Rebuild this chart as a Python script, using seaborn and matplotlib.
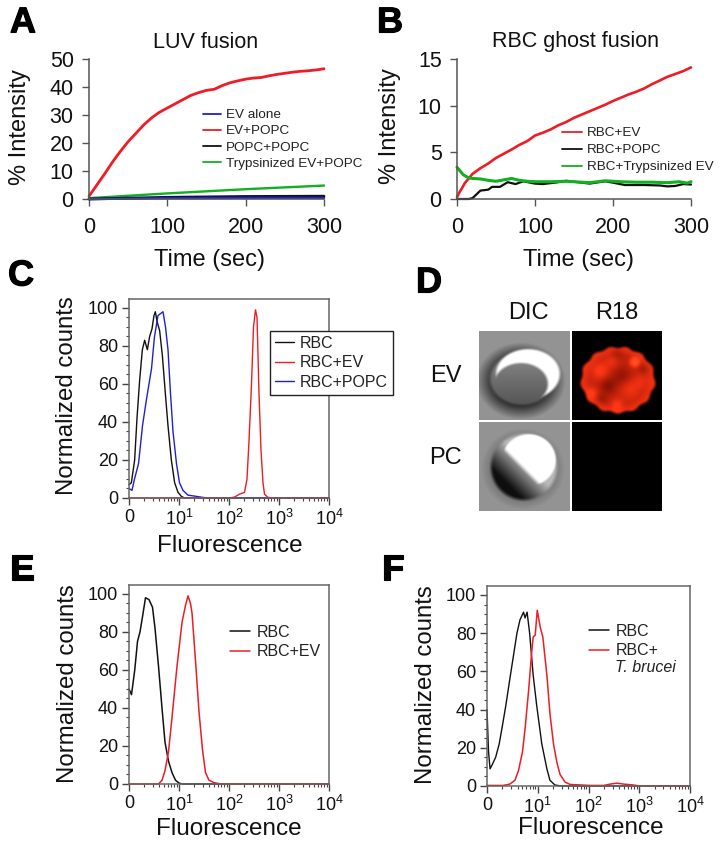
import numpy as np
import pandas as pd
import matplotlib
matplotlib.use("Agg")
import matplotlib.pyplot as plt
import matplotlib.patheffects as pe
from matplotlib.ticker import FixedLocator, NullFormatter
import seaborn as sns

W, H = 725, 851
sns.set_theme(style="ticks")
plt.rcParams["font.family"] = ["Liberation Sans", "DejaVu Sans"]
plt.rcParams["mathtext.default"] = "regular"
plt.rcParams["mathtext.fontset"] = "custom"
plt.rcParams["mathtext.rm"] = "Liberation Sans"

RED, BLACK, BLUE, GREEN = "#ee1c25", "#111111", "#1f1fd0", "#10b020"

# Panel A
a_red_t = [0, 10, 20, 30, 40, 50, 60, 70, 80, 90, 100, 110, 120, 130, 140, 150, 160, 170, 180, 190, 200,
           210, 220, 230, 240, 250, 260, 270, 280, 290, 300]
a_red_y = [1, 5, 9, 13.2, 17, 20.5, 23.5, 26.5, 29, 31, 32.5, 34, 35.5, 37, 38, 38.8, 39.2, 40.5, 41.5, 42.2, 42.8,
           43.2, 43.4, 44, 44.5, 44.9, 45.3, 45.6, 45.8, 46.1, 46.5]
a_green_t = [0, 100, 200, 300]
a_green_y = [0.3, 2.0, 3.5, 4.8]
a_black_t = [0, 100, 200, 300]
a_black_y = [0.0, 0.6, 0.9, 1.0]
a_blue_t = [0, 100, 200, 300]
a_blue_y = [0.0, 0.3, 0.4, 0.4]

# Panel B
b_red_t = [0, 3, 6, 10, 15, 20, 30, 40, 50, 60, 70, 80, 90, 100, 110, 120, 130, 140, 150, 160,
           170, 180, 190, 200, 210, 220, 230, 240, 250, 260, 270, 280, 290, 300]
b_red_y = [0.2, 0.7, 1.1, 1.7, 2.2, 2.7, 3.3, 3.8, 4.4, 4.85, 5.3, 5.8, 6.2, 6.8, 7.1, 7.45, 7.9, 8.25,
           8.7, 9.05, 9.4, 9.75, 10.1, 10.5, 10.85, 11.2, 11.5, 11.85, 12.3, 12.7, 13.1, 13.4, 13.7, 14.1]
b_green_t = [0, 2, 5, 8, 12, 16, 20, 30, 40, 50, 60, 70, 80, 90, 100, 120, 140, 160, 170, 190, 210,
             230, 250, 270, 285, 295, 300]
b_green_y = [3.4, 3.2, 2.9, 2.6, 2.4, 2.25, 2.2, 2.15, 2.0, 1.9, 2.05, 2.2, 2.0, 1.9, 1.85, 1.85, 1.9,
             1.8, 1.75, 1.95, 1.85, 1.8, 1.8, 1.75, 1.85, 1.7, 1.85]
b_black_t = [0, 15, 20, 25, 30, 40, 45, 55, 65, 75, 85, 100, 110, 130, 140, 150, 170, 190, 200, 215,
             240, 260, 270, 280, 290, 300]
b_black_y = [0, 0, 0.1, 0.5, 0.9, 1.0, 1.3, 1.3, 1.8, 1.6, 1.9, 1.65, 1.6, 1.8, 1.95, 1.85, 1.65, 1.9,
             1.75, 1.5, 1.5, 1.45, 1.35, 1.4, 1.6, 1.55]

# Panel C
c_black_x = [0, .047, .113, .16, .213, .267, .313, .367, .413, .46, .5, .527, .56, .613, .667, .727,
             .78, .847, .913, .98, 1.05, 1.11, 4]
c_black_y = [7, 8, 20, 42, 62, 78, 83, 78, 85, 89, 96, 98, 93, 88, 75, 55, 38, 20, 8, 3, .8, 0, 0]
c_blue_x = [0, .06, .11, .19, .27, .35, .45, .51, .58, .63, .68, .73, .78, .83, .88, .95, 1.01, 1.08,
            1.18, 1.31, 1.48, 1.61, 4]
c_blue_y = [5, 4, 10, 18, 38, 52, 68, 85, 96, 97, 98, 90, 78, 55, 35, 18, 8, 4, 1.5, 1, .3, 0, 0]
c_red_x = [0, 2.01, 2.11, 2.21, 2.31, 2.36, 2.4, 2.45, 2.49, 2.53, 2.56, 2.6, 2.64, 2.68, 2.71, 2.78, 2.95, 4]
c_red_y = [0, 0, .5, 2, 3, 10, 30, 60, 90, 99, 95, 55, 25, 8, 2, .3, 0, 0]

# Panel E
e_black_x = [0, .05, .115, .17, .22, .27, .33, .4, .47, .52, .59, .66, .72, .79, .86, .93, 1.0, 1.06, 4]
e_black_y = [50, 47, 60, 75, 80, 88, 98, 97, 93, 82, 62, 40, 22, 12, 6, 2, .5, 0, 0]
e_red_x = [0, .59, .66, .72, .79, .86, .96, 1.06, 1.13, 1.18, 1.23, 1.26, 1.33, 1.4, 1.47, 1.53, 1.6, 1.7, 1.84, 4]
e_red_y = [0, 0, 2, 7, 17, 35, 62, 85, 94, 99, 95, 90, 65, 38, 18, 6, 2, .7, 0, 0]

# Panel F
f_black_x = [0, .03, .06, .1, .17, .24, .3, .37, .45, .52, .59, .65, .72, .75, .79, .84, .91, .98, 1.08,
             1.18, 1.24, 1.34, 1.47, 4]
f_black_y = [40, 18, 9, 11, 15, 22, 31, 42, 56, 68, 80, 87, 91, 88, 91, 80, 58, 42, 22, 9, 3, .5, 0, 0]
f_red_x = [0, .32, .45, .55, .62, .7, .75, .82, .88, .91, .95, .99, 1.05, 1.1, 1.18, 1.24, 1.31, 1.38, 1.44,
           1.54, 1.64, 2.03, 2.3, 2.43, 2.56, 2.69, 2.89, 3.02, 4]
f_red_y = [.3, .3, 1, 3, 8, 18, 30, 50, 70, 78, 79, 92, 83, 78, 58, 38, 22, 12, 6, 2, .8, .3, .3, 1, 1.5, 1, .5, 0, 0]

decade_ticks = [0, 1, 2, 3, 4]
decade_labels = ["0", "10$^{1}$", "10$^{2}$", "10$^{3}$", "10$^{4}$"]
count_ticks = [0, 20, 40, 60, 80, 100]
time_ticks = [0, 100, 200, 300]

fig = plt.figure(figsize=(W / 100, H / 100), dpi=100, facecolor="white")


def make_axes(left, right, top, bottom):
    return fig.add_axes([left / W, 1 - bottom / H, (right - left) / W, (bottom - top) / H])


def put(x, y, s, size, rot=0, **kw):
    return fig.text(x / W, 1 - y / H, s, fontsize=size, rotation=rot, ha="center", va="center",
                    color="#111111", **kw)


def trace(ax, xs, ys, color, label, lw):
    frame = pd.DataFrame({"x": xs, "y": ys})
    sns.lineplot(data=frame, x="x", y="y", color=color, label=label, lw=lw, ax=ax,
                 errorbar=None, sort=False, clip_on=False, solid_joinstyle="round")


def add_legend(ax, order, x, y, size, spacing, hlen, pad, frame=False, hlw=1.3):
    handles, labels = ax.get_legend_handles_labels()
    lookup = dict(zip(labels, handles))
    kw = dict(frameon=frame, fontsize=size, labelspacing=spacing, handlelength=hlen, handletextpad=pad,
              loc="upper left", bbox_to_anchor=(x / W, 1 - y / H), bbox_transform=fig.transFigure,
              borderaxespad=0, borderpad=0.3 if frame else 0, labelcolor="#222222")
    leg = ax.legend([lookup[o] for o in order], order, **kw)
    for ln in leg.get_lines():
        ln.set_linewidth(hlw)
    if frame:
        leg.get_frame().set(edgecolor="#222222", facecolor="white", linewidth=1.0, alpha=1, boxstyle="square,pad=0")
    leg.set_zorder(10)
    return leg


def style_time(ax, ymax, yticks):
    ax.set(xlim=(0, 300), ylim=(0, ymax), xlabel="", ylabel="")
    ax.set_xticks(time_ticks)
    ax.set_yticks(yticks)
    ax.tick_params(length=5, width=1, color="#555555", labelsize=15.5, pad=6, labelcolor="#111111")
    ax.tick_params(axis="x", pad=8)
    sns.despine(ax=ax)
    for side in ("left", "bottom"):
        ax.spines[side].set(color="#555555", linewidth=1.1)


def style_flow(ax):
    ax.set(xlim=(0, 4), ylim=(0, 104.7), xlabel="", ylabel="")
    ax.set_xticks(decade_ticks)
    ax.set_xticklabels(decade_labels)
    ax.set_yticks(count_ticks)
    minors = [d + np.log10(m) for d in range(4) for m in range(2, 10)]
    ax.xaxis.set_minor_locator(FixedLocator(minors))
    ax.yaxis.set_minor_locator(FixedLocator([v for v in range(5, 100, 5) if v % 20]))
    ax.xaxis.set_minor_formatter(NullFormatter())
    ax.tick_params(which="major", length=5, width=1, color="#444444", labelsize=13, pad=3, labelcolor="#111111")
    ax.tick_params(which="minor", length=2.5, width=0.8, color="#444444")
    for s in ax.spines.values():
        s.set(color="#666666", linewidth=1.1)


# A
axA = make_axes(89, 324, 59, 199)
trace(axA, a_red_t, a_red_y, RED, "EV+POPC", 2.0)
trace(axA, a_green_t, a_green_y, GREEN, "Trypsinized EV+POPC", 1.7)
trace(axA, a_black_t, a_black_y, BLACK, "POPC+POPC", 2.0)
trace(axA, a_blue_t, a_blue_y, BLUE, "EV alone", 1.8)
style_time(axA, 50, [0, 10, 20, 30, 40, 50])
add_legend(axA, ["EV alone", "EV+POPC", "POPC+POPC", "Trypsinized EV+POPC"], 203, 109, 9.7, 0.27, 1.35, 0.38)

# B
axB = make_axes(457, 691, 59, 199)
trace(axB, b_red_t, b_red_y, RED, "RBC+EV", 1.9)
trace(axB, b_black_t, b_black_y, BLACK, "RBC+POPC", 1.6)
trace(axB, b_green_t, b_green_y, GREEN, "RBC+Trypsinized EV", 2.2)
style_time(axB, 15, [0, 5, 10, 15])
add_legend(axB, ["RBC+EV", "RBC+POPC", "RBC+Trypsinized EV"], 562, 127, 9.7, 0.34, 1.5, 0.38)

# C
axC = make_axes(129, 329, 299, 498)
trace(axC, c_black_x, c_black_y, BLACK, "RBC", 1.0)
trace(axC, c_blue_x, c_blue_y, BLUE, "RBC+POPC", 1.0)
trace(axC, c_red_x, c_red_y, RED, "RBC+EV", 1.0)
style_flow(axC)
add_legend(axC, ["RBC", "RBC+EV", "RBC+POPC"], 270, 331, 11.5, 0.28, 1.2, 0.37, frame=True, hlw=1.0)

# E
axE = make_axes(129, 329, 585, 784)
trace(axE, e_black_x, e_black_y, BLACK, "RBC", 1.1)
trace(axE, e_red_x, e_red_y, RED, "RBC+EV", 1.1)
style_flow(axE)
add_legend(axE, ["RBC", "RBC+EV"], 230, 625, 11.5, 0.28, 1.25, 0.45, hlw=1.1)

# F
axF = make_axes(487, 690, 586, 786)
trace(axF, f_black_x, f_black_y, BLACK, "RBC", 1.0)
trace(axF, f_red_x, f_red_y, RED, "RBC+", 1.1)
style_flow(axF)
add_legend(axF, ["RBC", "RBC+"], 589, 624, 11.5, 0.28, 1.25, 0.45, hlw=1.1)
fig.text(615 / W, 1 - 668 / H, "T. brucei", fontsize=11.5, style="italic", va="center", color="#222222")


# D: micrographs
def smooth(v, edge=0.12):
    return np.clip(0.5 + v / (2 * edge), 0, 1)


def grid(nx, ny):
    return np.meshgrid(np.linspace(0, nx, nx * 2), np.linspace(0, ny, ny * 2))


def ell(X, Y, cx, cy, rx, ry):
    return np.sqrt(((X - cx) / rx) ** 2 + ((Y - cy) / ry) ** 2)


X, Y = grid(91, 89)
ev = np.full_like(X, 0.58)
ev -= 0.40 * smooth(1 - ell(X, Y, 42, 50, 37, 32), 0.22)
ev = ev + (0.47 - 0.12 * (Y - 40) / 30 - ev) * smooth(1 - ell(X, Y, 43, 48, 32, 26), 0.06)
bright_ev = smooth(1 - ell(X, Y, 49, 43, 32, 25), 0.05) * smooth(ell(X, Y, 42, 53, 27, 21) - 1, 0.06)
ev = ev + (1.0 - ev) * bright_ev

pc = np.full_like(X, 0.58)
pc -= 0.12 * smooth(1 - ell(X, Y, 44, 47, 37, 36), 0.15)
cell = smooth(1 - ell(X, Y, 45, 45, 33, 33), 0.06)
proj = ((X - 45) - (Y - 45)) / 60
pc = pc + (np.clip(0.62 + 1.0 * proj, 0.06, 0.72) - pc) * cell
bright_pc = smooth(1 - ell(X, Y, 50, 38, 27, 26), 0.04) * smooth(X - Y + 2, 3)
pc = pc + (1.0 - pc) * bright_pc

Xr, Yr = grid(90, 89)
wob = 0.025 * np.sin(np.arctan2(Yr - 49, Xr - 46) * 13)
mask = smooth(1 + wob - ell(Xr, Yr, 46, 49, 37, 33), 0.05)
tex = np.full_like(Xr, 0.62)
tex += 0.12 * smooth(ell(Xr, Yr, 46, 49, 37, 33) - 0.85, 0.1)
blobs = [(63, 31, 3, .6), (28, 40, 6, .2), (58, 58, 7, .14), (20, 62, 4, .2), (45, 74, 4, .2), (40, 30, 5, .12),
         (50, 45, 7, -.15), (36, 55, 6, -.18), (70, 50, 6, .1), (30, 68, 4, -.1), (72, 38, 4, -.1), (45, 22, 5, -.1)]
for sx, sy, sr, amp in blobs:
    tex += amp * np.exp(-((Xr - sx) ** 2 + (Yr - sy) ** 2) / (2 * sr ** 2))
rgb = np.dstack([np.clip(tex * 1.25, 0, 1) * mask,
                 np.clip((tex - 0.25) * 0.38, 0, 1) * mask,
                 np.clip((tex - 0.4) * 0.2, 0, 1) * mask])

for img, box, cmap in [(ev, (479, 570, 331, 420), "gray"), (rgb, (572, 662, 331, 420), None),
                       (pc, (479, 570, 422, 511), "gray"), (np.zeros((4, 4)), (572, 662, 422, 511), "gray")]:
    ax_i = make_axes(*box)
    ax_i.imshow(img, cmap=cmap, vmin=0, vmax=1, aspect="auto", interpolation="bilinear")
    ax_i.axis("off")

put(528, 313, "DIC", 17)
put(617, 313, "R18", 17)
put(446, 376, "EV", 17)
put(445, 458, "PC", 17)

# Text
put(206, 42, "LUV fusion", 15.5)
put(575, 42, "RBC ghost fusion", 15.5)
put(209.5, 260, "Time (sec)", 17)
put(578.5, 260, "Time (sec)", 17)
put(20, 127, "% Intensity", 17, rot=90)
put(390, 126, "% Intensity", 17, rot=90)
put(230, 546, "Fluorescence", 17.5)
put(229, 829, "Fluorescence", 17.5)
put(591, 828, "Fluorescence", 17.5)
put(67, 396, "Normalized counts", 17.3, rot=90)
put(68, 684, "Normalized counts", 17.3, rot=90)
put(426, 685, "Normalized counts", 17.3, rot=90)

for letter, lx, ly in [("A", 23, 23), ("B", 390, 23), ("C", 21, 276), ("D", 429, 283), ("E", 22, 570), ("F", 393, 570)]:
    t = put(lx, ly, letter, 26, fontweight="bold")
    t.set_color("black")
    t.set_path_effects([pe.withStroke(linewidth=0.8, foreground="black", joinstyle="miter")])

fig.savefig("out.png", dpi=100)
